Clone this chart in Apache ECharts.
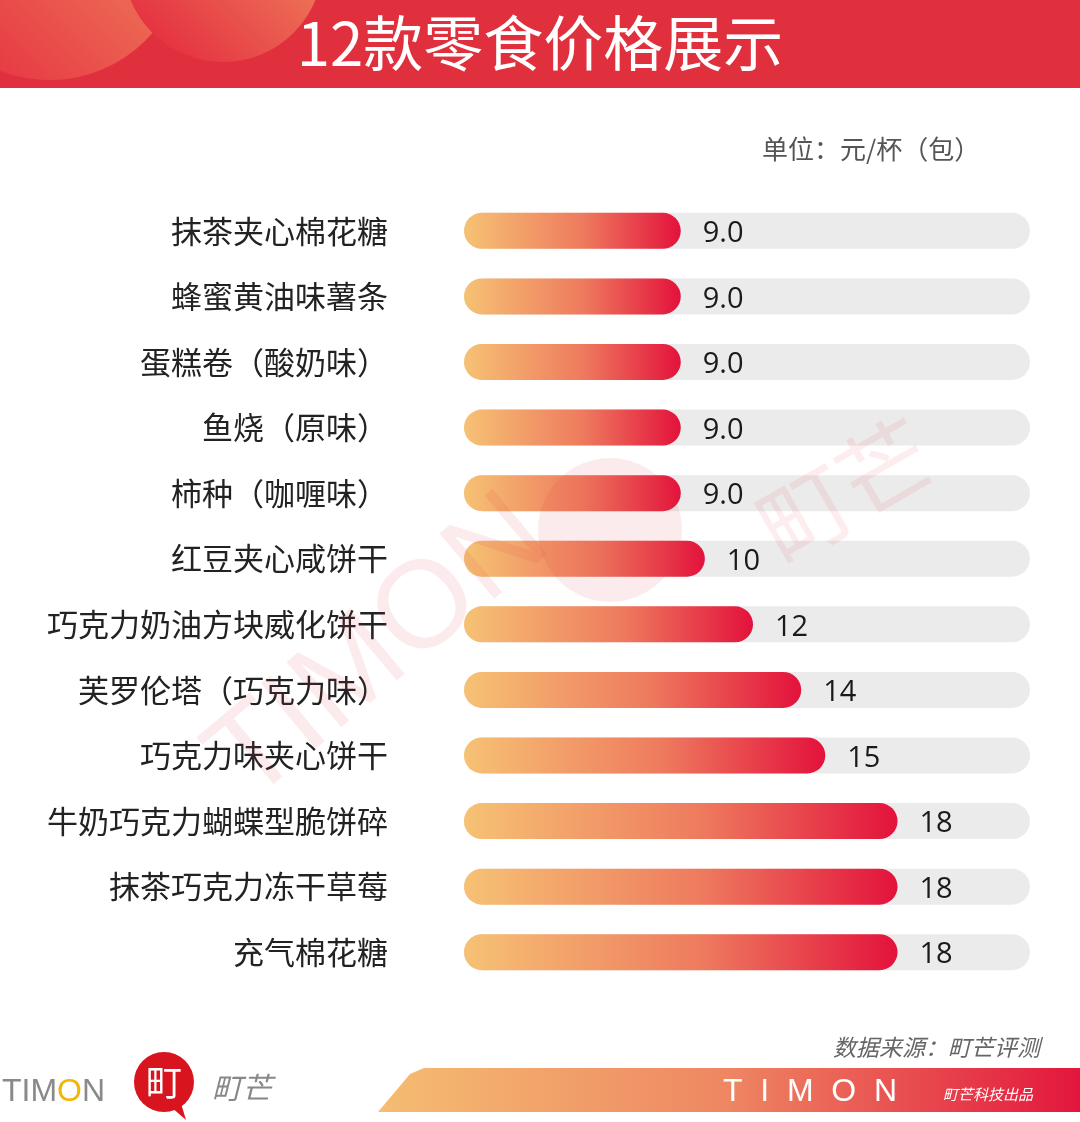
<!DOCTYPE html>
<html>
<head>
<meta charset="utf-8">
<script src="https://cdn.jsdelivr.net/npm/echarts@6/dist/echarts.min.js"></script>
<style>
  html, body { margin: 0; padding: 0; background: #ffffff; }
  #chart { width: 1080px; height: 1122px; }
</style>
</head>
<body>
<div id="chart"></div>
<script>
// 12款零食价格（单位：元/杯（包））
var snacks = [
  '抹茶夹心棉花糖', '蜂蜜黄油味薯条', '蛋糕卷（酸奶味）', '鱼烧（原味）',
  '柿种（咖喱味）', '红豆夹心咸饼干', '巧克力奶油方块威化饼干', '芙罗伦塔（巧克力味）',
  '巧克力味夹心饼干', '牛奶巧克力蝴蝶型脆饼碎', '抹茶巧克力冻干草莓', '充气棉花糖'
];
var prices = [9, 9, 9, 9, 9, 10, 12, 14, 15, 18, 18, 18];

var cjk = '"Noto Sans CJK SC", "Noto Sans", sans-serif';

var chart = echarts.init(document.getElementById('chart'), null, { renderer: 'canvas' });

var option = {
  backgroundColor: '#ffffff',
  animation: false,
  title: {
    text: '12款零食价格展示',
    left: 'center',
    top: 8,
    textStyle: { color: '#ffffff', fontFamily: cjk, fontWeight: 'normal', fontSize: 60 }
  },
  grid: { left: 464, right: 50, top: 198, bottom: 137, containLabel: false },
  xAxis: {
    type: 'value',
    min: 0,
    max: 23.5,
    show: false
  },
  yAxis: {
    type: 'category',
    inverse: true,
    data: snacks,
    axisLine: { show: false },
    axisTick: { show: false },
    axisLabel: { color: '#222222', fontFamily: cjk, fontSize: 31, margin: 76 }
  },
  series: [
    {
      type: 'bar',
      data: prices,
      barWidth: 36,
      showBackground: true,
      backgroundStyle: { color: '#ebebeb', borderRadius: 18 },
      itemStyle: {
        borderRadius: 18,
        color: new echarts.graphic.LinearGradient(0, 0, 1, 0, [
          { offset: 0, color: '#f6c274' },
          { offset: 0.55, color: '#ee7a5e' },
          { offset: 1, color: '#e3123c' }
        ])
      },
      label: {
        show: true,
        position: 'right',
        distance: 22,
        offset: [0, 3],
        color: '#1a1a1a',
        fontFamily: '"Open Sans", sans-serif',
        fontSize: 29,
        formatter: function (p) { return p.value < 10 ? p.value.toFixed(1) : String(p.value); }
      }
    }
  ],
  graphic: [
    // header band
    { type: 'rect', left: 0, top: 0, z: -10, shape: { width: 1080, height: 88 }, style: { fill: '#e1303d' } },
    {
      type: 'group', z: -9,
      children: [
        {
          type: 'circle', shape: { cx: 50, cy: -55, r: 135 },
          style: { fill: new echarts.graphic.LinearGradient(1, 0, 0, 1, [
            { offset: 0, color: '#f29a62' }, { offset: 1, color: '#e5283f' }
          ]) }
        },
        {
          type: 'circle', shape: { cx: 223, cy: -38, r: 100 },
          style: { fill: new echarts.graphic.LinearGradient(1, 0, 0, 1, [
            { offset: 0, color: '#f29a62' }, { offset: 1, color: '#e3223d' }
          ]) }
        },
        { type: 'rect', shape: { x: 0, y: 88, width: 400, height: 60 }, style: { fill: '#ffffff' } }
      ]
    },
    // unit
    {
      type: 'text', left: 762, top: 136,
      style: { text: '单位：元/杯（包）', fill: '#555555', font: '26px ' + cjk }
    },
    // watermark
    {
      type: 'text', x: 380, y: 650, rotation: Math.PI / 4.5, z: 100,
      style: { text: 'TIMON', fill: 'rgba(228,60,70,0.1)', font: '124px "Liberation Sans", sans-serif', align: 'center', verticalAlign: 'middle' }
    },
    { type: 'circle', z: 100, shape: { cx: 610, cy: 530, r: 72 }, style: { fill: 'rgba(228,60,70,0.10)' } },
    {
      type: 'text', x: 845, y: 490, rotation: Math.PI / 6, z: 100,
      style: { text: '町芒', fill: 'rgba(228,60,70,0.09)', font: '92px ' + cjk, align: 'center', verticalAlign: 'middle' }
    },
    // footer logo
    {
      type: 'text', left: 2, top: 1076,
      style: {
        text: '{a|TIM}{o|O}{a|N}',
        rich: {
          a: { fill: '#8a8a8a', font: '32px "Liberation Sans", sans-serif' },
          o: { fill: '#f2b705', font: '32px "Liberation Sans", sans-serif' }
        }
      }
    },
    { type: 'circle', shape: { cx: 164, cy: 1082, r: 30 }, style: { fill: '#d8141f' } },
    { type: 'polygon', shape: { points: [[170, 1106], [186, 1120], [180, 1100]] }, style: { fill: '#d8141f' } },
    {
      type: 'text', x: 164, y: 1082,
      style: { text: '町', fill: '#ffffff', font: '36px ' + cjk, align: 'center', verticalAlign: 'middle' }
    },
    {
      type: 'text', left: 212, top: 1073,
      style: { text: '町芒', fill: '#888888', font: 'italic 30px ' + cjk }
    },
    // footer right
    {
      type: 'text', right: 40, top: 1036,
      style: { text: '数据来源：町芒评测', fill: '#666666', font: 'italic 23px ' + cjk }
    },
    {
      type: 'polygon',
      shape: { points: [[378, 1112], [410, 1074], [424, 1068], [1080, 1068], [1080, 1112]] },
      style: { fill: new echarts.graphic.LinearGradient(0, 0, 1, 0, [
        { offset: 0, color: '#f5bd72' }, { offset: 0.5, color: '#ee8662' }, { offset: 1, color: '#e3163d' }
      ]) }
    },
    {
      type: 'text', x: 810, y: 1092,
      style: { text: 'T  I  M  O  N', fill: '#ffffff', font: '32px "Liberation Sans", sans-serif', align: 'center', verticalAlign: 'middle' }
    },
    {
      type: 'text', x: 943, y: 1094,
      style: { text: '町芒科技出品', fill: '#ffffff', font: 'italic 15px ' + cjk, verticalAlign: 'middle' }
    }
  ]
};

chart.setOption(option);
window.addEventListener('resize', function () { chart.resize(); });
</script>
</body>
</html>
